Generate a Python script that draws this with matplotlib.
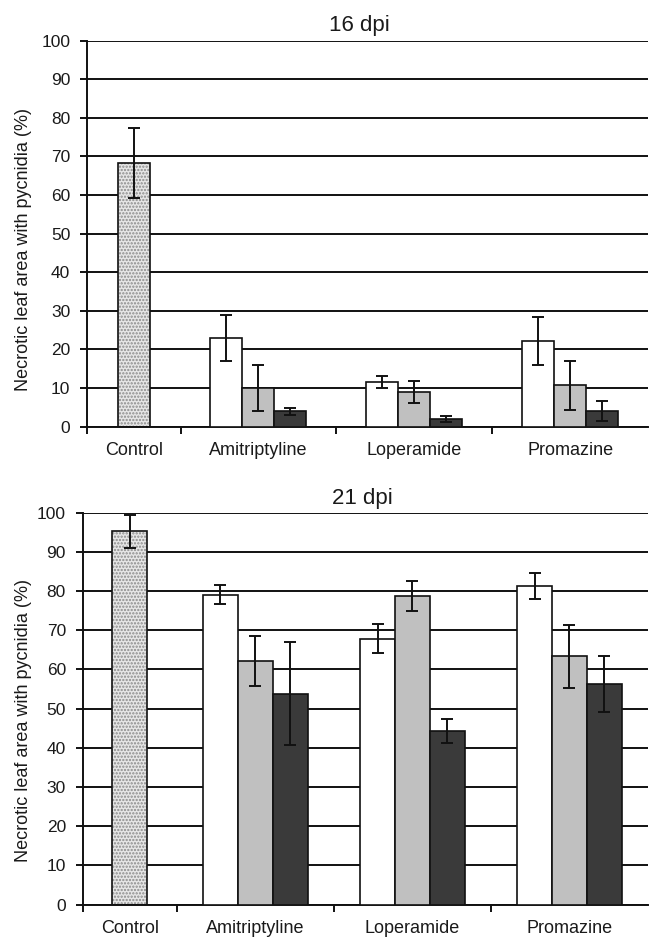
import matplotlib
matplotlib.use("Agg")
import matplotlib.pyplot as plt
import numpy as np

plt.rcParams['font.family'] = ['Liberation Sans', 'DejaVu Sans']
plt.rcParams['hatch.linewidth'] = 1.1
plt.rcParams['hatch.color'] = '#8a8a8a'

categories = ["Control", "Amitriptyline", "Loperamide", "Promazine"]
yticks = [0, 10, 20, 30, 40, 50, 60, 70, 80, 90, 100]

# 16 dpi
control_16 = 68.3
control_16_err = 9.2
white_16 = [23.0, 11.5, 22.2]
white_16_err = [6.0, 1.6, 6.2]
gray_16 = [10.0, 9.0, 10.7]
gray_16_err = [5.9, 2.9, 6.4]
dark_16 = [4.0, 1.9, 4.0]
dark_16_err = [0.9, 0.7, 2.7]

# 21 dpi
control_21 = 95.2
control_21_err = 4.2
white_21 = [79.0, 67.8, 81.2]
white_21_err = [2.4, 3.7, 3.3]
gray_21 = [62.1, 78.7, 63.3]
gray_21_err = [6.4, 3.7, 8.0]
dark_21 = [53.8, 44.3, 56.2]
dark_21_err = [13.2, 3.1, 7.2]

W, H = 650, 938
fig = plt.figure(figsize=(W / 100, H / 100), dpi=100)


def px_axes(left, right, top, bottom):
    return fig.add_axes([left / W, 1 - bottom / H, (right - left) / W, (bottom - top) / H])


ctrl_w = 0.6
centers = [ctrl_w / 2] + [ctrl_w + 0.5 + i for i in range(3)]
bounds = [0, ctrl_w, ctrl_w + 1, ctrl_w + 2]
xmax = ctrl_w + 3

ekw = dict(ecolor='#111111', elinewidth=1.4, capsize=4.2, capthick=1.4)


def draw(ax, title, title_x, title_pad, control, control_err, white, white_err,
         gray, gray_err, dark, dark_err, bw):
    ax.set_xlim(0, xmax)
    ax.set_ylim(0, 100)
    ax.set_yticks(yticks)
    ax.yaxis.grid(True, color='#111111', linewidth=1.4, zorder=0)
    ax.set_axisbelow(True)
    # control bar: dotted fill then black outline
    ax.bar(centers[0], control, width=bw, color='#e6e6e6', hatch='.....',
           edgecolor='#8a8a8a', linewidth=0, zorder=2)
    ax.bar(centers[0], control, width=bw, fill=False, edgecolor='#111111',
           linewidth=1.2, zorder=3)
    ax.errorbar(centers[0], control, yerr=control_err, fmt='none', zorder=4, **ekw)
    xc = np.array(centers[1:])
    for off, vals, errs, col in [(-bw, white, white_err, 'white'),
                                 (0, gray, gray_err, '#c0c0c0'),
                                 (bw, dark, dark_err, '#3a3a3a')]:
        ax.bar(xc + off, vals, width=bw, color=col, edgecolor='#111111',
               linewidth=1.2, zorder=3)
        ax.errorbar(xc + off, vals, yerr=errs, fmt='none', zorder=4, **ekw)
    for s in ['top', 'right']:
        ax.spines[s].set_visible(False)
    for s in ['left', 'bottom']:
        ax.spines[s].set_linewidth(1.4)
        ax.spines[s].set_color('#111111')
    ax.set_xticks(bounds)
    ax.set_xticklabels([])
    ax.set_xticks(centers, minor=True)
    ax.set_xticklabels(categories, minor=True, fontsize=13, color='#1a1a1a')
    ax.tick_params(axis='x', which='major', direction='out', length=5, width=1.4,
                   color='#111111')
    ax.tick_params(axis='x', which='minor', length=0, pad=11)
    ax.tick_params(axis='y', direction='out', length=5, width=1.4, color='#111111',
                   labelsize=12.5, labelcolor='#1a1a1a', pad=7)
    ax.set_title(title, fontsize=16, x=title_x, pad=title_pad, color='#1a1a1a')
    ax.set_ylabel("Necrotic leaf area with pycnidia (%)", fontsize=13,
                  color='#1a1a1a', va='center')


ax1 = px_axes(87, 648, 40.7, 426.5)
draw(ax1, "16 dpi", 0.485, 7, control_16, control_16_err, white_16, white_16_err,
     gray_16, gray_16_err, dark_16, dark_16_err, 0.205)
ax1.yaxis.set_label_coords((24 - 87) / (648 - 87), 0.46)

ax2 = px_axes(82.6, 648, 512.5, 904.5)
draw(ax2, "21 dpi", 0.494, 6, control_21, control_21_err, white_21, white_21_err,
     gray_21, gray_21_err, dark_21, dark_21_err, 0.222)
ax2.yaxis.set_label_coords((24 - 82.6) / (648 - 82.6), 0.47)

fig.savefig("out.png", dpi=100)
